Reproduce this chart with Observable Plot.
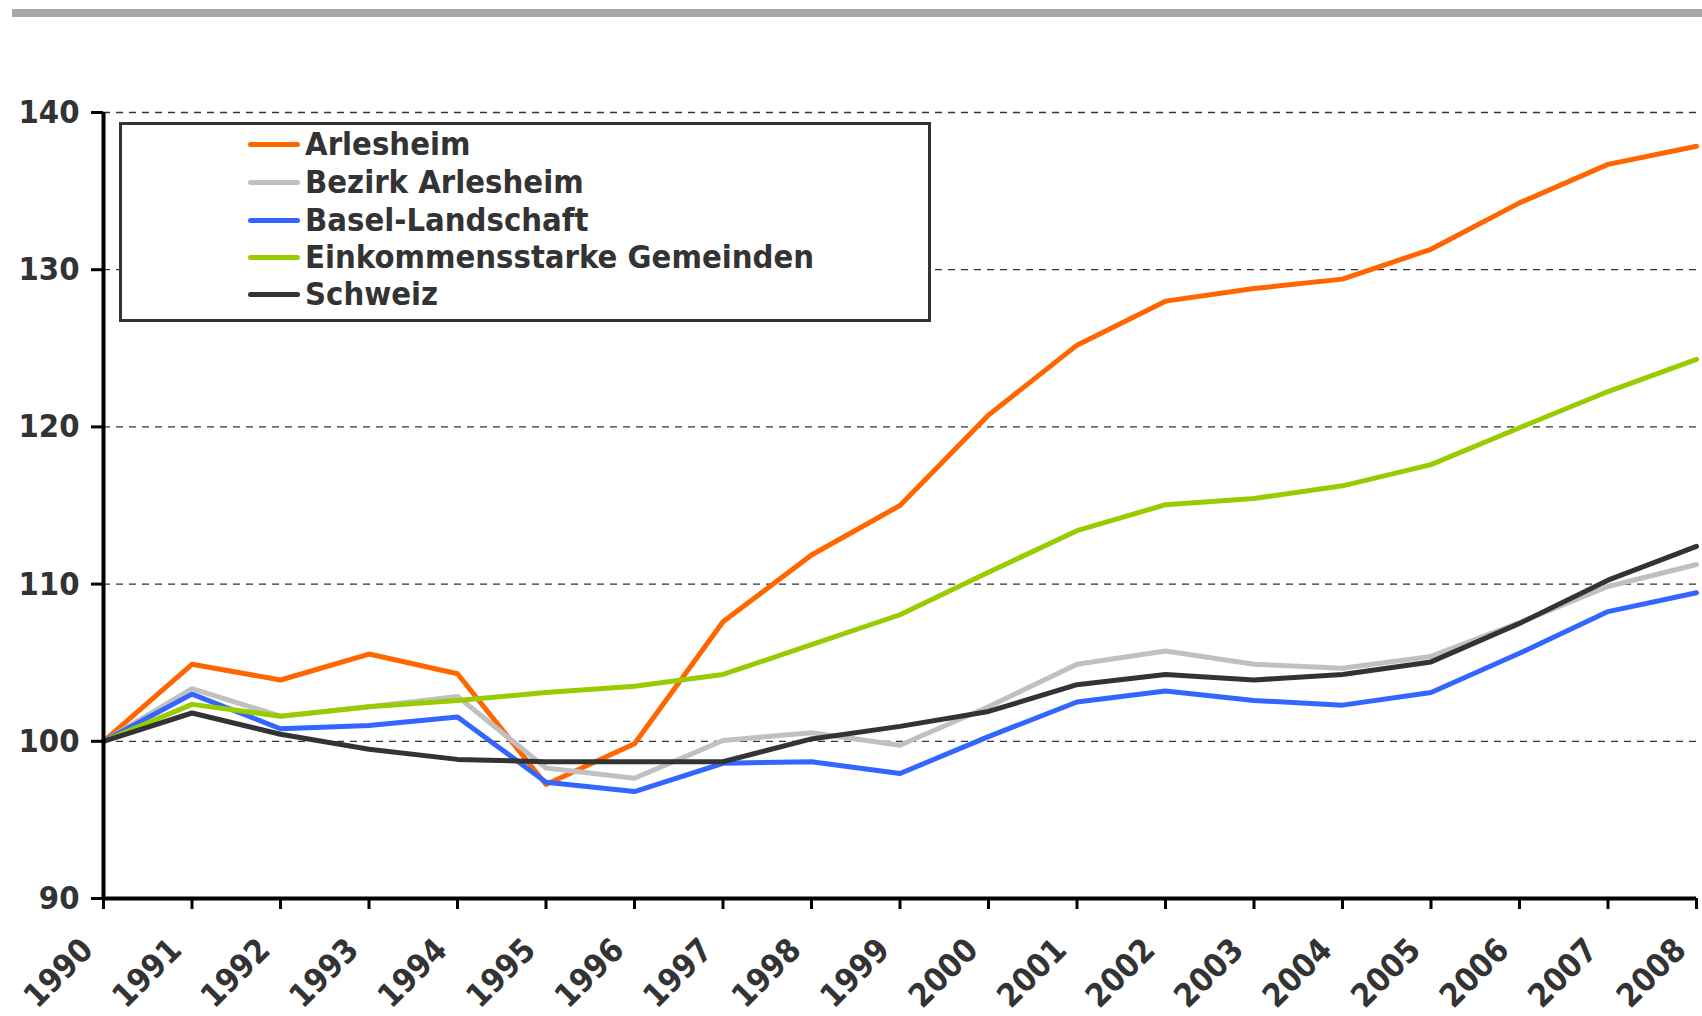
<!DOCTYPE html>
<html>
<head>
<meta charset="utf-8">
<script src="https://cdn.jsdelivr.net/npm/d3@7"></script>
<script src="https://cdn.jsdelivr.net/npm/@observablehq/plot@0.6"></script>
<style>
  html, body { margin: 0; padding: 0; background: #fff; }
  #wrap { position: relative; width: 1702px; height: 1016px; overflow: hidden; }
  #topbar { position: absolute; left: 12px; top: 9px; width: 1690px; height: 8px; background: #a8a8a8; }
  #legend { position: absolute; left: 119px; top: 122px; width: 806px; height: 194px; border: 3px solid #333; background: #fff;
            font-family: "DejaVu Sans Condensed", "DejaVu Sans", sans-serif; font-stretch: condensed; font-weight: bold; font-size: 32.5px; color: #333; }
  .row { position: absolute; left: 0; height: 0; }
  .swatch { position: absolute; left: 126px; width: 52px; height: 5px; border-radius: 3px; top: -2.5px; }
  .lab { position: absolute; left: 183px; top: -20px; white-space: nowrap; line-height: 40px; }
  svg text { font-family: "DejaVu Sans Condensed", "DejaVu Sans", sans-serif; font-stretch: condensed; font-weight: bold; }
</style>
</head>
<body>
<div id="wrap">
  <div id="chart"></div>
  <div id="topbar"></div>
  <div id="legend"></div>
</div>
<script>
const years = [1990,1991,1992,1993,1994,1995,1996,1997,1998,1999,2000,2001,2002,2003,2004,2005,2006,2007,2008];
const seriesNames = ["Arlesheim", "Bezirk Arlesheim", "Basel-Landschaft", "Einkommensstarke Gemeinden", "Schweiz"];
const seriesColors = ["#ff6600", "#c0c0c0", "#3366ff", "#99cc00", "#333333"];
const arlesheim = [100, 104.9, 103.9, 105.55, 104.3, 97.25, 99.85, 107.6, 111.85, 115.0, 120.75, 125.2, 128.0, 128.8, 129.4, 131.3, 134.25, 136.7, 137.85];
const bezirkArlesheim = [100, 103.35, 101.6, 102.2, 102.85, 98.3, 97.65, 100.05, 100.55, 99.75, 102.2, 104.9, 105.75, 104.9, 104.65, 105.4, 107.55, 109.85, 111.25];
const baselLandschaft = [100, 103.0, 100.8, 101.0, 101.55, 97.4, 96.8, 98.6, 98.7, 97.95, 100.3, 102.5, 103.2, 102.6, 102.3, 103.1, 105.6, 108.25, 109.45];
const einkommensstarke = [100, 102.35, 101.6, 102.2, 102.6, 103.1, 103.5, 104.25, 106.15, 108.05, 110.75, 113.4, 115.05, 115.45, 116.25, 117.6, 119.95, 122.25, 124.3];
const schweiz = [100, 101.8, 100.45, 99.5, 98.85, 98.7, 98.7, 98.7, 100.15, 100.95, 101.9, 103.6, 104.25, 103.9, 104.25, 105.05, 107.5, 110.25, 112.4];
const yTicks = [90, 100, 110, 120, 130, 140];
const gridTicks = [100, 110, 120, 130, 140];

const seriesValues = [arlesheim, bezirkArlesheim, baselLandschaft, einkommensstarke, schweiz];
const rows = [];
seriesNames.forEach((name, i) => {
  years.forEach((yr, j) => rows.push({series: name, year: yr, value: seriesValues[i][j]}));
});

const plot = Plot.plot({
  width: 1702,
  height: 1016,
  marginLeft: 103,
  marginRight: 6,
  marginTop: 112,
  marginBottom: 118,
  style: {fontSize: "32.5px", fontWeight: "bold", background: "transparent", overflow: "visible"},
  x: {domain: [1990, 2008]},
  y: {domain: [90, 140]},
  color: {domain: seriesNames, range: seriesColors},
  marks: [
    Plot.gridY(gridTicks, {stroke: "#333", strokeOpacity: 1, strokeWidth: 1.3, strokeDasharray: "7,6"}),
    ...seriesNames.map(name => Plot.lineY(rows.filter(d => d.series === name), {
      x: "year", y: "value", stroke: "series", strokeWidth: 5, strokeLinejoin: "round", strokeLinecap: "round"
    })),
    Plot.axisY(yTicks, {tickSize: 12, tickPadding: 12, stroke: "black", strokeWidth: 3, fill: "#333", label: null, tickFormat: d => String(d)}),
    Plot.axisX(years, {tickSize: 11, stroke: "black", strokeWidth: 3, label: null, tickFormat: () => ""}),
    Plot.axisX(years, {tickSize: 0, tickPadding: 46, dx: -16, tickRotate: -45, fill: "#333", label: null, tickFormat: d => String(d)}),
    Plot.ruleX([1990], {stroke: "black", strokeWidth: 4}),
    Plot.ruleY([90], {stroke: "black", strokeWidth: 4})
  ]
});
document.getElementById("chart").appendChild(plot);

const legend = document.getElementById("legend");
const rowTops = [19, 57, 95, 132, 169];
seriesNames.forEach((name, i) => {
  const r = document.createElement("div");
  r.className = "row";
  r.style.top = rowTops[i] + "px";
  const sw = document.createElement("div");
  sw.className = "swatch";
  sw.style.background = seriesColors[i];
  const lb = document.createElement("div");
  lb.className = "lab";
  lb.textContent = name;
  r.appendChild(sw); r.appendChild(lb);
  legend.appendChild(r);
});
</script>
</body>
</html>
